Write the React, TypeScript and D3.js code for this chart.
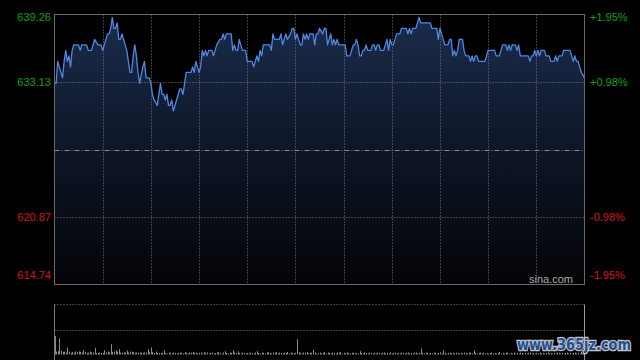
import React from "react"
import * as d3 from "d3"

// minute index from 09:30 (330 trading minutes) and last price
const priceMinutes = [
  0, 1, 2, 4, 5, 6, 7, 8, 9, 10, 11, 12, 15, 16, 17, 20, 21, 23, 24, 25, 27, 28, 29,
  30, 31, 32, 33, 34, 35, 36, 37, 38, 39, 40, 41, 42, 43, 45, 46, 47, 48, 49, 50, 51, 52, 53, 55, 56, 57, 59,
  60, 61, 62, 64, 65, 66, 67, 68, 69, 70, 71, 72, 73, 74, 75, 76, 77, 78, 79, 80, 81, 82, 83, 85, 86, 87, 88, 89,
  90, 91, 92, 93, 94, 95, 96, 98, 99, 101, 103, 104, 105, 106, 107, 109, 110, 111, 112, 113, 114, 115, 116, 117, 119,
  120, 123, 124, 125, 126, 127, 128, 129, 130, 134, 135, 136, 137, 140, 141, 142, 143, 144, 145, 147, 148, 149,
  150, 151, 152, 153, 154, 155, 156, 157, 158, 159, 161, 162, 163, 164, 165, 167, 168, 169, 170, 171, 172, 173, 174, 175, 176, 177, 178,
  181, 182, 184, 185, 186, 187, 188, 189, 190, 191, 192, 193, 194, 195, 196, 197, 198, 199, 200, 201, 202, 203, 205, 206, 207, 208, 209,
  210, 211, 212, 213, 215, 216, 218, 219, 220, 221, 222, 223, 224, 225, 226, 227, 228, 229, 234, 235, 238, 239,
  240, 241, 242, 243, 245, 246, 247, 248, 249, 250, 251, 252, 254, 255, 256, 258, 259, 260, 261, 262, 263, 264, 268, 269,
  270, 274, 275, 277, 278, 279, 281, 282, 283, 284, 285, 287, 288, 289, 290, 295, 296, 297, 298, 299,
  300, 301, 302, 303, 305, 306, 308, 309, 311, 312, 313, 314, 316, 317, 321, 322, 323, 324, 325, 326, 327, 328, 330,
]
const prices = [
  633.0, 633.0, 635.0, 634.0, 633.5, 635.0, 636.0, 635.0, 635.5, 634.5, 636.0, 636.5, 636.5, 636.0, 636.5, 636.5, 636.0, 636.0, 636.5, 637.0, 636.5, 636.5, 636.5,
  636.0, 636.5, 637.0, 637.5, 637.5, 638.0, 639.0, 638.0, 638.0, 638.5, 637.0, 637.0, 637.5, 637.0, 636.0, 635.0, 634.0, 634.0, 635.5, 636.5, 635.5, 634.0, 633.0, 634.5, 635.0, 633.5, 633.5,
  633.0, 632.0, 631.5, 631.0, 632.0, 633.0, 632.0, 632.0, 631.5, 632.0, 631.0, 631.0, 631.5, 630.5, 631.0, 631.5, 632.0, 632.5, 632.5, 632.0, 633.0, 634.0, 634.0, 634.0, 634.5, 634.0, 635.0, 634.5,
  634.0, 634.5, 636.0, 635.5, 636.0, 635.5, 636.0, 636.0, 635.5, 636.5, 637.0, 637.0, 637.5, 637.0, 637.5, 637.5, 637.5, 636.0, 636.5, 636.0, 636.0, 637.0, 636.5, 636.0, 636.0,
  635.0, 635.0, 634.5, 635.0, 635.5, 635.0, 636.0, 635.5, 636.5, 636.5, 636.0, 637.5, 637.0, 637.0, 637.5, 636.5, 637.0, 637.5, 637.0, 637.5, 638.0, 638.0,
  637.0, 637.5, 637.0, 636.5, 636.5, 637.5, 637.0, 637.5, 637.0, 637.5, 637.5, 636.5, 637.5, 637.5, 638.0, 637.5, 638.0, 638.0, 636.5, 637.0, 637.5, 636.5, 637.0, 636.5, 637.0, 636.5, 636.5,
  636.5, 635.5, 635.5, 636.0, 636.5, 636.5, 637.0, 636.5, 635.5, 635.5, 636.0, 636.0, 636.5, 636.0, 636.0, 636.0, 636.5, 636.5, 636.0, 636.5, 636.5, 636.0, 636.0, 636.5, 637.0, 636.0, 637.0,
  636.5, 636.5, 637.0, 637.5, 637.5, 638.0, 638.0, 638.0, 637.5, 638.0, 637.5, 638.0, 638.0, 638.0, 638.5, 639.0, 638.5, 638.5, 638.5, 638.0, 638.0, 637.0,
  638.0, 637.5, 637.0, 636.5, 636.5, 637.0, 637.0, 635.5, 636.0, 635.5, 636.0, 637.0, 637.0, 636.0, 635.5, 635.5, 635.0, 635.5, 635.0, 635.5, 635.5, 635.0, 635.0, 635.5,
  636.0, 636.0, 635.5, 635.5, 636.0, 636.5, 636.5, 636.0, 636.5, 636.0, 636.5, 636.5, 636.0, 636.5, 635.5, 635.5, 635.0, 635.5, 635.5, 636.0,
  635.5, 636.0, 635.5, 636.0, 636.0, 635.5, 635.5, 635.0, 635.0, 635.5, 635.0, 635.5, 635.5, 636.0, 636.0, 635.5, 635.0, 635.5, 635.0, 635.0, 634.5, 634.0, 633.5,
]

// per-minute volume (relative units)
const volumes = [
  55, 9, 10, 48, 12, 8, 9, 6, 21, 9, 5, 8, 5, 9, 8, 9, 8, 6, 13, 8, 5, 6, 9, 6, 6, 20, 5, 5, 6, 5,
  5, 13, 6, 9, 6, 31, 8, 9, 12, 9, 16, 6, 5, 6, 6, 12, 6, 9, 8, 8, 5, 6, 6, 5, 6, 5, 6, 6, 16, 8,
  21, 8, 5, 9, 5, 5, 5, 5, 12, 5, 3, 6, 5, 3, 6, 5, 3, 5, 6, 5, 3, 8, 5, 3, 6, 5, 8, 5, 6, 3,
  5, 6, 3, 8, 5, 6, 3, 5, 6, 3, 5, 6, 8, 5, 3, 6, 10, 5, 3, 6, 5, 13, 6, 5, 9, 5, 3, 6, 5, 3,
  5, 3, 6, 5, 3, 6, 10, 5, 3, 6, 5, 3, 6, 8, 5, 3, 6, 5, 8, 3, 6, 5, 3, 6, 5, 8, 3, 6, 5, 3,
  5, 46, 6, 5, 3, 6, 5, 8, 3, 6, 5, 15, 6, 3, 5, 6, 3, 5, 8, 3, 6, 5, 3, 6, 5, 3, 6, 5, 8, 3,
  5, 3, 6, 5, 3, 5, 6, 3, 5, 3, 10, 5, 3, 6, 5, 3, 6, 5, 3, 5, 3, 6, 5, 3, 5, 6, 3, 5, 3, 6,
  3, 5, 6, 3, 5, 3, 6, 5, 3, 5, 6, 3, 5, 3, 5, 6, 3, 5, 18, 5, 3, 6, 5, 3, 5, 3, 6, 5, 3, 5,
  6, 3, 12, 5, 3, 5, 6, 3, 5, 3, 6, 5, 3, 5, 3, 6, 5, 3, 5, 6, 3, 12, 5, 3, 5, 6, 3, 5, 3, 5,
  3, 5, 6, 3, 5, 3, 5, 8, 3, 5, 3, 6, 5, 3, 5, 3, 6, 3, 5, 3, 6, 5, 3, 5, 3, 5, 6, 3, 5, 3,
  5, 3, 6, 3, 5, 3, 5, 6, 3, 5, 3, 5, 3, 6, 5, 3, 5, 3, 5, 6, 3, 5, 3, 5, 6, 3, 5, 3, 9, 5, 6,
]

const priceTicks = [639.26, 633.13, 620.87, 614.74]
const pctTicks = ["+1.95%", "+0.98%", "-0.98%", "-1.95%"]
const prevClose = 627.0
const gridMinutes = [30, 60, 90, 120, 150, 180, 210, 240, 270, 300]

export default function App() {
  const left = 54.5, right = 584.5, top = 14.5, bottom = 284.5
  const volTop = 304.5, volMid = 330.5, volBottom = 354.5

  const x = d3.scaleLinear().domain([0, 330]).range([left, right])
  const y = d3.scaleLinear().domain([614.74, 639.26]).range([bottom, top])
  const vy = d3.scaleLinear().domain([0, 150]).range([volBottom, volTop])

  const pts = priceMinutes.map((m, i) => [m, prices[i]] as [number, number])
  const line = d3.line<[number, number]>().x(d => x(d[0])).y(d => y(d[1]))
  const area = d3.area<[number, number]>().x(d => x(d[0])).y0(bottom).y1(d => y(d[1]))

  const font = "'Liberation Sans', Arial, sans-serif"
  const labelY = [top + 6, y(633.13) + 4, y(620.87) + 4, bottom - 6]

  return (
    <svg width={640} height={360} style={{ position: "fixed", left: 0, top: 0, background: "#000" }}>
      <defs>
        <linearGradient id="fillGrad" gradientUnits="userSpaceOnUse" x1={0} y1={top} x2={0} y2={bottom}>
          <stop offset="0%" stopColor="#1b2c4c" />
          <stop offset="55%" stopColor="#0c1424" />
          <stop offset="100%" stopColor="#030406" />
        </linearGradient>
      </defs>
      <rect x={0} y={0} width={640} height={360} fill="#000" />

      <path d={area(pts) || ""} fill="url(#fillGrad)" />

      {gridMinutes.map(m => (
        <line key={m} x1={Math.round(x(m)) + 0.5} x2={Math.round(x(m)) + 0.5} y1={top} y2={bottom}
          stroke="#7a7a7a" strokeDasharray="1,2" />
      ))}
      {[633.13, 620.87].map(v => (
        <line key={v} x1={left} x2={right} y1={Math.round(y(v)) + 0.5} y2={Math.round(y(v)) + 0.5}
          stroke="#7a7a7a" strokeDasharray="1,2" />
      ))}
      <line x1={left} x2={right} y1={Math.round(y(prevClose)) + 0.5} y2={Math.round(y(prevClose)) + 0.5}
        stroke="#8a8a8a" strokeDasharray="5,2,1,2" />

      <path d={line(pts) || ""} fill="none" stroke="#4f88e2" strokeWidth={1.3} strokeLinejoin="round" />

      <rect x={left} y={top} width={right - left} height={bottom - top} fill="none" stroke="#6a6a6a" />

      {priceTicks.map((v, i) => (
        <text key={v} x={51} y={labelY[i]} textAnchor="end" fontFamily={font} fontSize={11}
          fill={i < 2 ? "#12a012" : "#d81414"}>{v.toFixed(2)}</text>
      ))}
      {pctTicks.map((t, i) => (
        <text key={t} x={590} y={labelY[i]} fontFamily={font} fontSize={11}
          fill={i < 2 ? "#12a012" : "#d81414"}>{t}</text>
      ))}
      <text x={573} y={283} textAnchor="end" fontFamily={font} fontSize={11} fill="#a8a8a8">sina.com</text>

      {/* volume panel */}
      <line x1={left} x2={right} y1={volTop} y2={volTop} stroke="#7a7a7a" strokeDasharray="1,2" />
      <line x1={left} x2={right} y1={volMid} y2={volMid} stroke="#7a7a7a" strokeDasharray="1,2" />
      <line x1={left} x2={left} y1={volTop} y2={360} stroke="#7a7a7a" />
      <line x1={right} x2={right} y1={volTop} y2={360} stroke="#9a9a9a" />
      {volumes.map((v, i) => (
        <rect key={i} x={Math.round(x(i))} y={vy(v)} width={1} height={volBottom - vy(v)} fill="#8a8a8a" />
      ))}

      <text x={574} y={350} textAnchor="middle" fontFamily="'DejaVu Sans', sans-serif" fontWeight="bold"
        fontSize={15} fill="#1f4f96" stroke="#c4c4c4" strokeWidth={2.5} paintOrder="stroke"
        textLength={114} lengthAdjust="spacingAndGlyphs">www.365jz.com</text>
    </svg>
  )
}
